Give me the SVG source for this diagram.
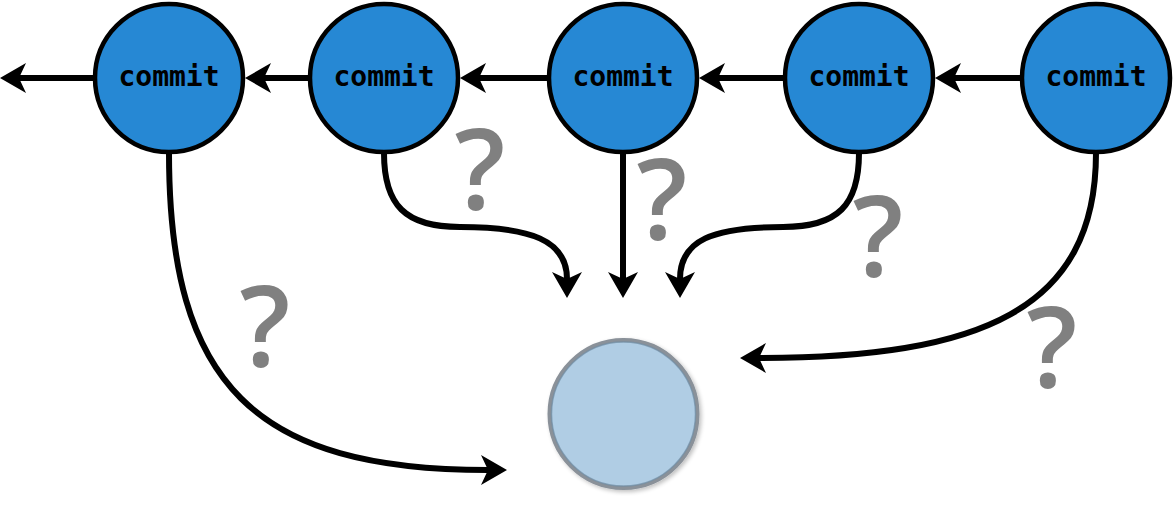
<svg xmlns="http://www.w3.org/2000/svg" width="1174" height="532" viewBox="0 0 1174 532">
<style>
.commit circle{fill:#2688d4;stroke:#000;stroke-width:4.5}
.commit text{font-family:"DejaVu Sans Mono","Liberation Mono",monospace;font-weight:bold;font-size:28px;fill:#000;text-anchor:middle}
.edge{fill:none;stroke:#000;stroke-width:6;marker-end:url(#arr)}
.q{font-family:"Open Sans","DejaVu Sans",sans-serif;font-weight:600;font-size:112px;fill:#808080;text-anchor:middle}
</style>
<defs>
<marker id="arr" markerUnits="userSpaceOnUse" viewBox="-10 -16 30 32" refX="0" refY="0" markerWidth="30" markerHeight="32" orient="auto" overflow="visible">
<path d="M19,0 L-7,-15 L0,0 L-7,15 Z" fill="#000"/>
</marker>
<filter id="sh" x="-20%" y="-20%" width="140%" height="140%">
<feGaussianBlur in="SourceAlpha" stdDeviation="2"/>
<feOffset dx="2" dy="2" result="b"/>
<feComponentTransfer><feFuncA type="linear" slope="0.25"/></feComponentTransfer>
<feMerge><feMergeNode/><feMergeNode in="SourceGraphic"/></feMerge>
</filter>
</defs>
<g id="connectors">
<path class="edge" d="M93,78 L19,78"/>
<path class="edge" d="M308,78 L264,78"/>
<path class="edge" d="M547,78 L479,78"/>
<path class="edge" d="M783,78 L718,78"/>
<path class="edge" d="M1020,78 L954,78"/>
<path class="edge" d="M169,153 C169,385 255,470 488,470"/>
<path class="edge" d="M384,153 C384,205 405,227 460,227 C530,227 567,240 567,279"/>
<path class="edge" d="M623,153 L623,279"/>
<path class="edge" d="M859,153 C859,205 838,227 783,227 C713,227 680,240 680,279"/>
<path class="edge" d="M1096,153 C1096,310 980,358 759,358"/>
</g>
<g id="c1" class="commit"><circle cx="169" cy="78" r="74"/><text x="169" y="86">commit</text></g>
<g id="c2" class="commit"><circle cx="384" cy="78" r="74"/><text x="384" y="86">commit</text></g>
<g id="c3" class="commit"><circle cx="623" cy="78" r="74"/><text x="623" y="86">commit</text></g>
<g id="c4" class="commit"><circle cx="859" cy="78" r="74"/><text x="859" y="86">commit</text></g>
<g id="c5" class="commit"><circle cx="1096" cy="78" r="74"/><text x="1096" y="86">commit</text></g>
<g id="target">
<circle cx="623.5" cy="414" r="74" fill="#b0cde4" stroke="#8a9199" stroke-width="4" filter="url(#sh)"/>
<circle cx="623.5" cy="414" r="72" fill="none" stroke="#6f8ba3" stroke-width="1.5" opacity="0.7"/>
</g>
<g id="questions">
<text class="q" x="480" y="210">?</text>
<text class="q" x="662" y="240">?</text>
<text class="q" x="878" y="277">?</text>
<text class="q" x="1052" y="388">?</text>
<text class="q" x="265" y="367">?</text>
</g>
</svg>
